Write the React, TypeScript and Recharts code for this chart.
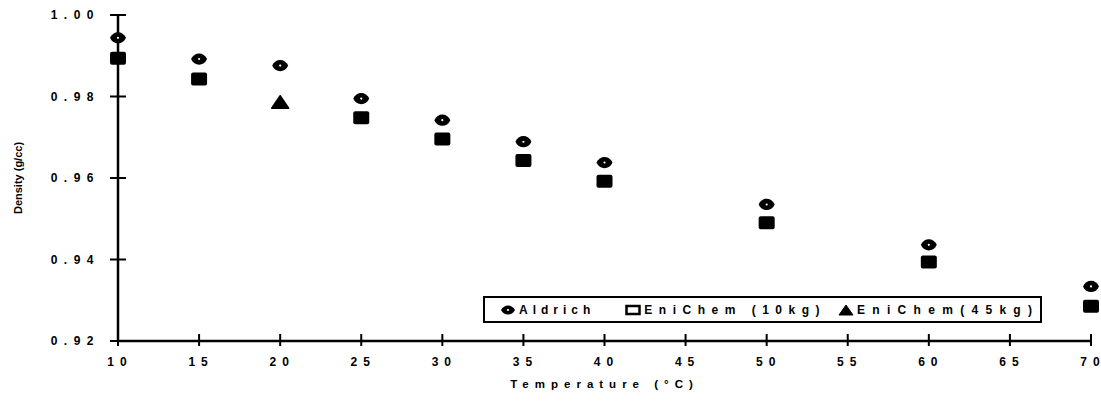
import React from "react";
import { ScatterChart, Scatter, XAxis, YAxis, Legend } from "recharts";

const aldrichTemps = [10, 15, 20, 25, 30, 35, 40, 50, 60, 70];
const aldrichDensity = [0.9944, 0.9892, 0.9876, 0.9795, 0.9742, 0.9689, 0.9638, 0.9535, 0.9436, 0.9334];

const eni10Temps = [10, 15, 25, 30, 35, 40, 50, 60, 70];
const eni10Density = [0.9894, 0.9843, 0.9748, 0.9696, 0.9643, 0.9592, 0.949, 0.9394, 0.9285];

const eni45Temps = [20];
const eni45Density = [0.9786];

const xTicks = [10, 15, 20, 25, 30, 35, 40, 45, 50, 55, 60, 65, 70];
const yTicks = [0.92, 0.94, 0.96, 0.98, 1.0];

const seriesNames = ["Aldrich", "EniChem (10kg)", "EniChem(45kg)"];

const zip = (xs: number[], ys: number[]) => xs.map((t, i) => ({ t, d: ys[i] }));

const FONT = "'Liberation Sans', Arial, sans-serif";

// tick text sits 18px left of the y axis; the cross mark straddles the axis
const renderYTick = (props: any) => {
  const x = Number(props.x);
  const y = Number(props.y);
  return (
    <g key={`y-${props.payload.value}`}>
      <rect x={x + 10} y={y - 1} width={16} height={2} fill="#000" />
      <text x={x} y={y} dy={4} textAnchor="end" fontFamily={FONT} fontWeight="bold" fontSize={12}
        style={{ letterSpacing: "6.5px" }} fill="#000">
        {Number(props.payload.value).toFixed(2)}
      </text>
    </g>
  );
};

// tick text sits 14px below the x axis
const renderXTick = (props: any) => {
  const x = Number(props.x);
  const y = Number(props.y);
  return (
    <g key={`x-${props.payload.value}`}>
      <rect x={x - 1} y={y - 21} width={2} height={12} fill="#000" />
      <text x={x} y={y} dx={2} dy={11} textAnchor="middle" fontFamily={FONT} fontWeight="bold" fontSize={12}
        style={{ letterSpacing: "6px" }} fill="#000">
        {props.payload.value}
      </text>
    </g>
  );
};

const Eye = (props: any) => {
  const { cx, cy } = props;
  return (
    <g>
      <path
        d={`M${cx - 8},${cy} C${cx - 5},${cy - 7.5} ${cx + 5},${cy - 7.5} ${cx + 8},${cy} C${cx + 5},${cy + 7.5} ${cx - 5},${cy + 7.5} ${cx - 8},${cy} Z`}
        fill="#000"
      />
      <circle cx={cx} cy={cy} r={1.1} fill="#fff" />
    </g>
  );
};

const Box = (props: any) => {
  const { cx, cy } = props;
  return <rect x={cx - 8} y={cy - 6.5} width={16} height={13} rx={2} fill="#000" />;
};

const Tri = (props: any) => {
  const { cx, cy } = props;
  return (
    <path d={`M${cx},${cy - 6.5} L${cx + 8.5},${cy + 6} L${cx - 8.5},${cy + 6} Z`} fill="#000"
      stroke="#000" strokeWidth={1.5} strokeLinejoin="round" />
  );
};

const legendIcons = [
  <svg width={16} height={12} key="a">
    <path d="M1,6 C4,0 12,0 15,6 C12,12 4,12 1,6 Z" fill="#000" />
    <circle cx={8} cy={6} r={1.1} fill="#fff" />
  </svg>,
  <svg width={16} height={12} key="b">
    <rect x={1.5} y={2} width={13} height={8} fill="#fff" stroke="#000" strokeWidth={2.5} />
  </svg>,
  <svg width={16} height={12} key="c">
    <path d="M8,1 L15,11 L1,11 Z" fill="#000" stroke="#000" strokeLinejoin="round" />
  </svg>,
];

const legendSpacing = [5, 6.5, 7.3];
const legendGap = [30, 12, 0];

const LegendBox = () => (
  <div
    style={{
      boxSizing: "border-box",
      width: 559,
      height: 27,
      border: "2.5px solid #000",
      background: "#fff",
      display: "flex",
      alignItems: "center",
      fontFamily: FONT,
      fontWeight: "bold",
      fontSize: 12,
      paddingLeft: 15,
      whiteSpace: "nowrap",
    }}
  >
    {seriesNames.map((n, i) => (
      <div key={n} style={{ display: "flex", alignItems: "center", marginRight: legendGap[i] }}>
        <span style={{ marginRight: 3, display: "flex" }}>{legendIcons[i]}</span>
        <span style={{ letterSpacing: `${legendSpacing[i]}px` }}>{n}</span>
      </div>
    ))}
  </div>
);

export default function App() {
  return (
    <div style={{ position: "absolute", left: 0, top: 0, background: "#fff" }}>
      <ScatterChart width={1101} height={402} margin={{ top: 15, right: 10, bottom: 0, left: 58 }}>
        <XAxis
          type="number"
          dataKey="t"
          domain={[10, 70]}
          ticks={xTicks}
          interval={0}
          height={61}
          tickSize={6}
          tickMargin={8}
          tickLine={false}
          tick={renderXTick}
          axisLine={{ stroke: "#000", strokeWidth: 2.5 }}
          label={{
            value: "Temperature (°C)",
            position: "insideBottom",
            offset: 14,
            style: { fontFamily: FONT, fontWeight: "bold", fontSize: 11.5, letterSpacing: "6px", fill: "#000" },
          }}
        />
        <XAxis
          xAxisId="top"
          orientation="top"
          type="number"
          dataKey="t"
          domain={[10, 70]}
          height={0}
          tick={false}
          tickLine={false}
          axisLine={{ stroke: "#000", strokeWidth: 2.5 }}
        />
        <YAxis
          type="number"
          dataKey="d"
          domain={[0.92, 1.0]}
          ticks={yTicks}
          interval={0}
          width={60}
          tickSize={8}
          tickMargin={10}
          tickLine={false}
          tick={renderYTick}
          axisLine={{ stroke: "#000", strokeWidth: 2.5 }}
          label={{
            value: "Density (g/cc)",
            angle: -90,
            position: "insideLeft",
            offset: -40,
            style: { fontFamily: FONT, fontWeight: "bold", fontSize: 11, fill: "#000", textAnchor: "middle" },
          }}
        />
        <YAxis
          yAxisId="right"
          orientation="right"
          type="number"
          domain={[0.92, 1.0]}
          width={0}
          tick={false}
          tickLine={false}
          axisLine={{ stroke: "#000", strokeWidth: 2.5 }}
        />
        <Legend
          layout="vertical"
          align="center"
          verticalAlign="middle"
          content={<LegendBox />}
          wrapperStyle={{ left: 483, top: 296, width: 559, height: 27 }}
        />
        <Scatter name={seriesNames[0]} data={zip(aldrichTemps, aldrichDensity)} shape={<Eye />} isAnimationActive={false} />
        <Scatter name={seriesNames[1]} data={zip(eni10Temps, eni10Density)} shape={<Box />} isAnimationActive={false} />
        <Scatter name={seriesNames[2]} data={zip(eni45Temps, eni45Density)} shape={<Tri />} isAnimationActive={false} />
      </ScatterChart>
    </div>
  );
}
